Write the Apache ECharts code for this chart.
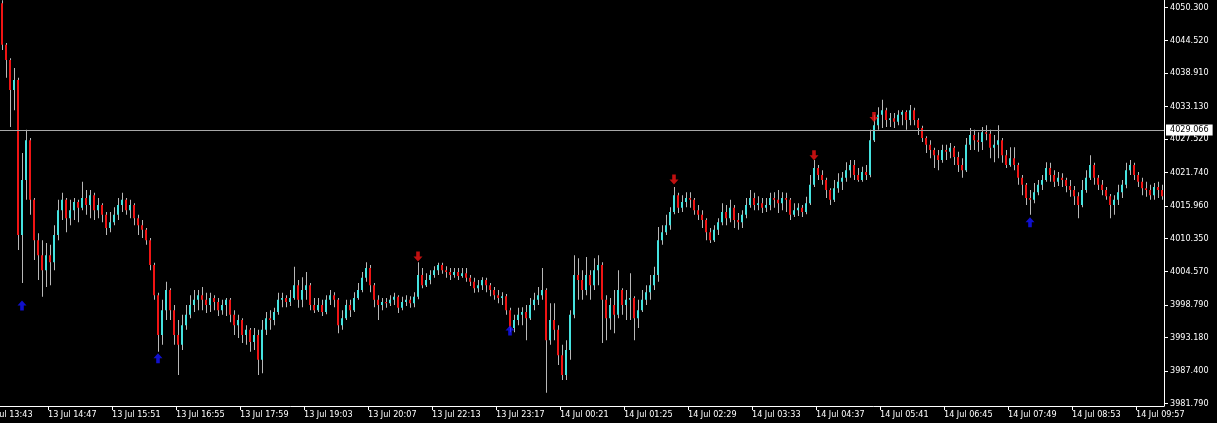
<!DOCTYPE html>
<html>
<head>
<meta charset="utf-8">
<script src="https://cdn.jsdelivr.net/npm/echarts@6/dist/echarts.min.js"></script>
<style>
html,body{margin:0;padding:0;background:#000;}
#chart{width:1217px;height:423px;}
</style>
</head>
<body>
<div id="chart"></div>
<script>
// ---- DATA ----
const timeLabels = ['13 Jul 13:43','13 Jul 14:47','13 Jul 15:51','13 Jul 16:55','13 Jul 17:59','13 Jul 19:03','13 Jul 20:07','13 Jul 22:13','13 Jul 23:17','14 Jul 00:21','14 Jul 01:25','14 Jul 02:29','14 Jul 03:33','14 Jul 04:37','14 Jul 05:41','14 Jul 06:45','14 Jul 07:49','14 Jul 08:53','14 Jul 09:57'];
const priceTicks = [4050.300,4044.520,4038.910,4033.130,4027.520,4021.740,4015.960,4010.350,4004.570,3998.790,3993.180,3987.400,3981.790];
const currentLine = 4029.066;
const firstOpen = 4051.0;
const closes = [
4043.8,4041.2,4036.0,4037.7,4010.9,4020.4,4027.3,4017.0,4010.0,4007.4,
4004.8,4007.4,4006.2,4010.9,4015.2,4017.0,4013.8,4015.2,4016.6,4015.6,
4017.3,4016.1,4017.8,4015.2,4016.1,4014.4,4012.1,4013.1,4014.4,4016.1,
4017.0,4015.2,4016.1,4013.8,4012.6,4011.8,4010.0,4005.7,4000.5,3993.6,
3997.9,4001.4,3997.9,3993.6,3991.9,3995.3,3997.1,3998.8,3999.7,4000.5,
3999.7,3998.8,4000.0,3999.3,3997.9,3998.8,3999.7,3997.1,3995.3,3996.2,
3993.6,3994.5,3992.4,3993.6,3989.3,3994.5,3996.5,3996.2,3997.6,3999.7,
4000.0,3999.3,4000.0,4002.2,3999.7,4001.4,4002.2,3998.8,3997.9,3998.8,
3997.6,3999.7,4000.5,3999.7,3995.3,3996.5,3998.8,3997.9,4000.0,4001.4,
4003.5,4005.2,4002.2,3999.7,3998.8,3999.3,3999.1,3999.7,4000.2,3998.3,
3999.3,3999.7,3999.1,4000.2,4004.0,4002.2,4003.1,4004.0,4004.8,4005.7,
4004.8,4004.5,4004.0,4004.5,4003.8,4004.3,4003.5,4002.8,4001.7,4002.2,
4003.1,4002.2,4001.4,4000.5,4000.0,4000.3,3997.9,3994.8,3996.2,3997.1,
3997.6,3996.5,3998.8,3999.7,4000.5,4001.4,3992.7,3996.2,3994.5,3990.1,
3986.7,3991.0,3997.1,4004.0,4003.1,4001.4,4004.0,4002.2,4004.8,4005.7,
3999.7,3996.5,3998.8,3997.1,4001.4,3998.8,3999.7,4000.0,3996.5,3997.9,
3999.7,4001.0,4002.2,4004.0,4010.0,4011.4,4012.6,4014.9,4017.8,4015.6,
4016.6,4017.3,4017.0,4015.2,4014.4,4013.5,4011.4,4010.0,4011.8,4013.1,
4014.9,4013.8,4015.6,4013.5,4013.1,4014.4,4016.1,4017.3,4016.1,4016.4,
4015.6,4016.1,4017.3,4017.0,4016.4,4017.3,4017.0,4014.4,4015.2,4015.6,
4014.9,4016.4,4019.6,4022.5,4021.3,4020.4,4018.7,4017.0,4019.0,4020.1,
4020.8,4022.1,4023.0,4021.3,4020.4,4021.8,4021.3,4027.3,4029.9,4031.7,
4032.5,4030.8,4031.1,4030.5,4031.7,4032.2,4030.8,4032.5,4030.8,4029.4,
4027.7,4026.5,4025.6,4024.7,4023.9,4025.6,4025.3,4026.0,4024.4,4023.0,
4022.1,4026.5,4028.2,4027.3,4027.0,4028.7,4028.4,4026.0,4026.5,4027.3,
4024.7,4023.0,4024.2,4023.0,4020.8,4019.6,4017.3,4017.0,4018.3,4019.6,
4020.4,4022.5,4021.3,4020.1,4020.8,4020.4,4019.4,4018.7,4017.6,4016.1,
4018.7,4020.8,4023.0,4020.8,4019.6,4018.7,4017.6,4016.1,4017.0,4018.3,
4019.6,4022.1,4023.0,4021.3,4020.1,4019.0,4018.7,4017.8,4019.2,4018.7,
4017.6];
const highs = [
4051.5,4044.1,4041.5,4039.8,4038.1,4025.1,4029.1,4027.7,4017.3,4011.2,
4010.0,4009.5,4009.2,4012.6,4017.0,4018.2,4017.3,4017.0,4017.3,4017.0,
4020.1,4018.7,4018.7,4018.2,4017.3,4016.4,4014.9,4014.9,4015.7,4017.3,
4018.2,4017.3,4017.0,4016.4,4014.4,4013.5,4012.1,4010.4,4006.1,4000.9,
3999.7,4002.8,4001.7,3998.8,3996.2,3997.1,3998.8,4000.5,4001.4,4001.4,
4001.9,4000.9,4000.9,4000.5,4000.0,3999.7,4000.0,4000.0,3997.9,3997.1,
3996.5,3995.3,3994.8,3994.8,3994.5,3996.2,3997.6,3997.9,3998.3,4000.9,
4000.9,4000.5,4001.4,4005.4,4003.1,4003.6,4004.5,4002.6,4000.0,4000.0,
3999.7,4000.5,4001.4,4001.0,4000.0,3997.9,3999.7,3999.7,4001.0,4002.6,
4004.5,4006.2,4005.7,4002.6,4000.5,4000.0,4000.0,4000.5,4000.9,4000.5,
4000.2,4000.5,4000.3,4001.0,4006.2,4005.2,4004.3,4004.8,4005.5,4006.1,
4006.1,4005.5,4005.2,4005.2,4005.2,4005.2,4005.2,4004.0,4003.5,4003.1,
4003.6,4003.5,4002.6,4001.9,4001.4,4001.0,4000.7,3998.3,3997.1,3998.3,
3998.4,3998.8,4000.0,4000.9,4001.9,4005.2,4001.7,3999.1,3999.1,3995.3,
3991.9,3992.7,3997.9,4007.4,4006.9,4004.8,4007.1,4004.8,4006.9,4007.4,
4006.2,4000.5,4000.0,4001.4,4004.8,4001.7,4001.4,4004.3,4000.3,3999.7,
4001.4,4002.2,4004.0,4005.4,4012.3,4012.6,4014.4,4015.7,4019.2,4018.2,
4017.8,4018.3,4018.3,4017.3,4016.1,4015.2,4013.8,4012.1,4012.6,4013.8,
4016.4,4016.1,4017.0,4016.1,4014.7,4015.2,4017.3,4018.7,4018.2,4017.6,
4017.3,4017.3,4018.2,4018.3,4018.7,4018.3,4018.2,4017.3,4016.4,4016.4,
4016.1,4017.5,4021.3,4023.9,4023.0,4022.1,4020.8,4019.0,4020.4,4021.6,
4021.8,4023.5,4023.9,4023.9,4022.5,4022.7,4023.0,4029.1,4031.7,4033.0,
4034.3,4032.9,4032.0,4032.0,4032.5,4032.5,4032.5,4033.4,4032.9,4031.1,
4029.8,4028.0,4027.3,4026.0,4025.6,4026.5,4026.5,4026.8,4026.3,4025.3,
4024.2,4027.7,4029.4,4029.1,4028.7,4029.6,4029.9,4029.1,4028.2,4029.9,
4027.7,4025.6,4026.1,4026.1,4023.4,4021.3,4019.9,4018.7,4019.9,4020.4,
4021.3,4023.5,4023.4,4022.1,4021.8,4021.6,4020.8,4020.4,4019.4,4018.3,
4020.4,4022.1,4024.7,4023.4,4021.3,4020.4,4019.2,4018.0,4017.8,4019.6,
4020.4,4023.4,4023.9,4023.4,4021.8,4020.8,4020.1,4019.6,4019.9,4020.1,
4019.6];
const lows = [
4042.9,4038.1,4029.6,4032.5,4008.3,4002.6,4017.0,4014.4,4006.6,4003.1,
4000.2,4001.9,4002.2,4004.8,4010.0,4013.5,4011.4,4012.6,4013.5,4013.1,
4015.2,4014.4,4013.8,4013.5,4013.8,4013.1,4010.9,4011.4,4012.6,4013.5,
4014.9,4014.4,4013.8,4012.6,4010.9,4010.4,4009.2,4004.8,3999.7,3990.7,
3991.9,3996.2,3996.2,3991.9,3986.7,3991.0,3994.5,3996.5,3997.6,3997.9,
3997.9,3997.4,3997.6,3997.9,3996.9,3997.1,3996.9,3995.8,3993.6,3993.1,
3992.2,3991.9,3990.7,3991.0,3986.7,3987.0,3993.6,3994.5,3995.3,3997.1,
3998.4,3998.4,3998.6,3999.7,3998.3,3998.4,3999.7,3997.9,3997.4,3997.6,
3996.9,3997.2,3998.8,3998.4,3993.9,3994.5,3996.2,3996.7,3997.6,3999.7,
4001.0,4002.8,4001.0,3998.4,3996.2,3997.9,3998.3,3998.6,3998.8,3997.4,
3997.9,3998.6,3998.3,3998.4,3999.8,4001.7,4001.9,4002.4,4003.5,4004.0,
4004.2,4003.5,4003.1,4003.5,4003.1,4003.5,4002.8,4002.1,4000.9,4001.0,
4001.4,4001.0,4000.3,3999.7,3999.1,3998.8,3997.1,3994.1,3994.1,3995.3,
3995.3,3992.7,3996.2,3997.9,3998.8,3999.7,3983.6,3991.9,3992.7,3988.4,
3985.8,3985.8,3989.3,3996.5,3999.7,3999.7,4000.5,3999.7,4001.4,4002.2,
3992.2,3992.7,3994.5,3993.9,3996.5,3997.1,3996.2,3996.2,3992.7,3994.8,
3997.6,3998.8,3999.7,4001.4,4002.8,4009.2,4010.9,4011.8,4014.5,4014.7,
4014.9,4015.7,4015.6,4014.4,4013.5,4012.1,4010.0,4009.5,4009.7,4010.9,
4012.6,4012.6,4013.1,4012.1,4011.8,4012.1,4013.8,4015.6,4015.2,4015.2,
4014.7,4014.9,4015.2,4015.6,4014.7,4015.2,4014.9,4013.5,4014.0,4014.2,
4014.0,4014.5,4016.1,4019.2,4020.4,4019.6,4017.3,4016.1,4016.6,4018.2,
4018.7,4020.1,4020.8,4020.4,4020.1,4020.1,4020.4,4020.9,4027.0,4029.1,
4029.4,4029.6,4029.6,4029.4,4029.9,4029.9,4029.1,4029.9,4029.9,4028.2,
4027.0,4025.1,4024.2,4022.5,4022.1,4023.4,4023.9,4024.2,4023.0,4021.8,
4020.8,4021.8,4025.6,4025.6,4025.3,4025.6,4027.3,4024.2,4023.5,4024.2,
4023.4,4022.5,4022.7,4022.1,4019.6,4017.8,4016.1,4014.4,4016.4,4017.8,
4018.7,4020.1,4020.1,4019.2,4019.4,4019.2,4018.3,4017.5,4016.1,4013.8,
4015.7,4018.2,4020.4,4019.6,4018.7,4017.8,4017.0,4013.8,4014.4,4016.1,
4017.3,4019.0,4021.3,4020.4,4019.2,4017.8,4017.5,4017.0,4017.0,4017.3,
4017.0];
// signal arrows: bar index and price level
const buyArrowBars = [5, 39, 127, 257];
const buyArrowPrices = [3998.7, 3989.6, 3994.4, 4013.1];
const sellArrowBars = [104, 168, 203, 218];
const sellArrowPrices = [4007.2, 4020.5, 4024.7, 4031.3];

// ---- LAYOUT / STYLE ----
const LABEL_STEP = 64;      // minutes between time labels
const BAR_MINUTES = 4;      // minutes per bar
const BAR_START = 18;       // minute of first bar, measured from the first label
const X_MIN = 16, X_MAX = 1180;
const Y_MIN = 3981.32, Y_MAX = 4051.56;
const UP = '#45e3e0', DOWN = '#f01414', WICK = '#b8b8b8';
const FONT = "'DejaVu Sans Condensed','Liberation Sans',sans-serif";
const TEXT_COLOR = '#ffffff';

const barX = i => BAR_START + i * BAR_MINUTES;
const tickPos = timeLabels.map((_, k) => k * LABEL_STEP);
const candles = closes.map((c, i) => [barX(i), i === 0 ? firstOpen : closes[i - 1], c, lows[i], highs[i]]);
const buyPts = buyArrowBars.map((b, k) => [barX(b), buyArrowPrices[k]]);
const sellPts = sellArrowBars.map((b, k) => [barX(b), sellArrowPrices[k]]);

function renderCandle(params, api) {
  const x = api.value(0), o = api.value(1), c = api.value(2), l = api.value(3), h = api.value(4);
  const top = api.coord([x, Math.max(h, o, c)]);
  const bot = api.coord([x, Math.min(l, o, c)]);
  const po = api.coord([x, o]), pc = api.coord([x, c]);
  const cx = Math.round(top[0]);
  const y1 = Math.min(po[1], pc[1]), y2 = Math.max(po[1], pc[1]);
  return {
    type: 'group',
    children: [
      {type: 'rect', shape: {x: cx, y: top[1], width: 1, height: Math.max(1, bot[1] - top[1])}, style: {fill: WICK}},
      {type: 'rect', shape: {x: cx - 1, y: y1, width: 2, height: Math.max(1, y2 - y1)}, style: {fill: c >= o ? UP : DOWN}}
    ]
  };
}

const chart = echarts.init(document.getElementById('chart'), null, {renderer: 'canvas'});
chart.setOption({
  backgroundColor: '#000',
  animation: false,
  grid: {left: 0, right: 53, top: 0, bottom: 17, containLabel: false},
  xAxis: {
    type: 'value', min: X_MIN, max: X_MAX,
    axisLine: {show: true, onZero: false, lineStyle: {color: '#ffffff', width: 1}},
    axisTick: {show: true, length: 4, customValues: tickPos, lineStyle: {color: '#ffffff'}},
    axisLabel: {
      customValues: tickPos,
      formatter: v => timeLabels[tickPos.indexOf(v)] || '',
      align: 'left', margin: 4, color: TEXT_COLOR, fontFamily: FONT, fontSize: 9
    },
    splitLine: {show: false}
  },
  yAxis: [{
    type: 'value', position: 'right', min: Y_MIN, max: Y_MAX,
    axisLine: {show: true, lineStyle: {color: '#ffffff', width: 1}},
    axisTick: {show: true, length: 4, customValues: priceTicks, lineStyle: {color: '#ffffff'}},
    axisLabel: {customValues: priceTicks, formatter: v => v.toFixed(3), margin: 6, color: TEXT_COLOR, fontFamily: FONT, fontSize: 9},
    splitLine: {show: false}
  }, {
    type: 'value', position: 'right', min: Y_MIN, max: Y_MAX,
    axisLine: {show: false}, axisTick: {show: false},
    axisLabel: {customValues: [currentLine], formatter: v => v.toFixed(3), margin: 2, color: '#000000',
      backgroundColor: '#ffffff', padding: [1, 4, 1, 4], fontFamily: FONT, fontSize: 9},
    splitLine: {show: false}
  }],
  series: [{
    type: 'custom',
    renderItem: renderCandle,
    data: candles,
    encode: {x: 0, y: [1, 2, 3, 4]},
    clip: true,
    markLine: {
      silent: true, symbol: ['none', 'none'], label: {show: false},
      lineStyle: {color: '#a8a8a8', width: 1, type: 'solid'},
      data: [{yAxis: currentLine}]
    },
    z: 2
  }, {
    type: 'scatter', data: buyPts,
    symbol: 'path://M5,0 L10,5 L7,5 L7,10 L3,10 L3,5 L0,5 Z',
    symbolSize: [9, 10], itemStyle: {color: '#1414ff'}, z: 3, silent: true
  }, {
    type: 'scatter', data: sellPts,
    symbol: 'path://M3,0 L7,0 L7,5 L10,5 L5,10 L0,5 L3,5 Z',
    symbolSize: [9, 10], itemStyle: {color: '#f01414'}, z: 3, silent: true
  }]
});

// The first time label sits left of the visible range; place it through the axis scale so it is clipped at the edge.
const firstTickPx = chart.convertToPixel({xAxisIndex: 0}, tickPos[0]);
const axisPx = chart.convertToPixel({yAxisIndex: 0}, Y_MIN);
chart.setOption({
  graphic: [{
    type: 'text', x: firstTickPx, y: axisPx + 4, silent: true,
    style: {text: timeLabels[0], fill: TEXT_COLOR, font: "9px 'DejaVu Sans Condensed','Liberation Sans',sans-serif", textAlign: 'left', textVerticalAlign: 'top'}
  }]
});
</script>
</body>
</html>
